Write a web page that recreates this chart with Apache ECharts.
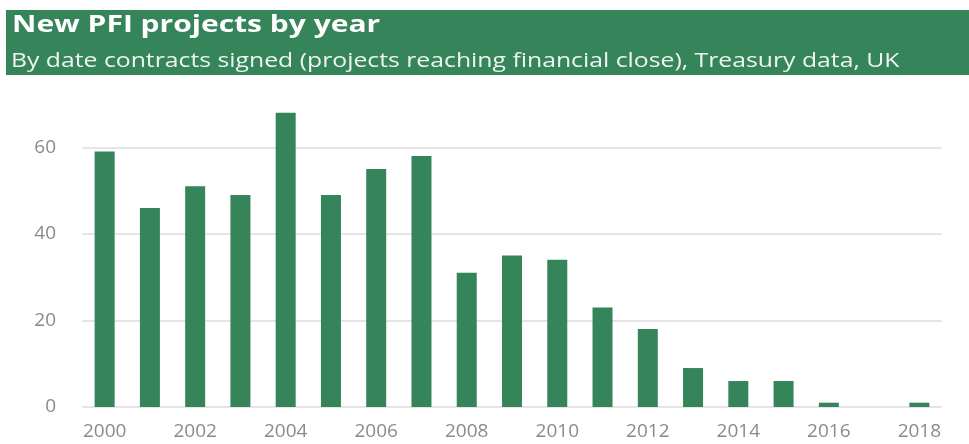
<!DOCTYPE html>
<html>
<head>
<meta charset="utf-8">
<script src="https://cdn.jsdelivr.net/npm/echarts@6/dist/echarts.min.js"></script>
<style>
  html, body { margin: 0; padding: 0; background: #fff; }
  #chart { width: 969px; height: 444px; }
</style>
</head>
<body>
<div id="chart"></div>
<script>
// New PFI projects reaching financial close, by year signed
const years = ['2000','2001','2002','2003','2004','2005','2006','2007','2008','2009',
               '2010','2011','2012','2013','2014','2015','2016','2017','2018'];
const projects = [59, 46, 51, 49, 68, 49, 55, 58, 31, 35, 34, 23, 18, 9, 6, 6, 1, 0, 1];
const yTicks = [0, 20, 40, 60];

const titleText = 'New PFI projects by year';
const subtitleText = 'By date contracts signed (projects reaching financial close), Treasury data, UK';

const green = '#35845a';
const chart = echarts.init(document.getElementById('chart'), null, { renderer: 'canvas' });

chart.setOption({
  backgroundColor: '#fff',
  animation: false,
  graphic: [
    {
      type: 'rect',
      shape: { x: 6, y: 10, width: 963, height: 65 },
      style: { fill: green },
      z: 0
    },
    {
      // header text is drawn slightly widened
      type: 'text',
      x: 12,
      y: 13,
      scaleX: 1.25,
      style: {
        text: titleText,
        fill: '#ffffff',
        font: 'bold 24px "Open Sans"',
        textVerticalAlign: 'top'
      },
      z: 1
    },
    {
      type: 'text',
      x: 11,
      y: 51,
      scaleX: 1.27,
      style: {
        text: subtitleText,
        fill: '#eef5f0',
        font: '19.5px "Open Sans"',
        textVerticalAlign: 'top'
      },
      z: 1
    }
  ],
  grid: { left: 82, right: 27, top: 104, bottom: 37, containLabel: false },
  xAxis: {
    type: 'category',
    data: years,
    axisLine: { show: false },
    axisTick: { show: false },
    axisLabel: {
      interval: 1,
      color: '#8a8a8a',
      fontFamily: 'Open Sans',
      fontSize: 19,
      margin: 15
    }
  },
  yAxis: {
    type: 'value',
    min: 0,
    max: 70,
    interval: 20,
    axisLine: { show: false },
    axisTick: { show: false },
    axisLabel: {
      showMaxLabel: false,
      color: '#8a8a8a',
      fontFamily: 'Open Sans',
      fontSize: 19,
      margin: 26,
      formatter: v => (yTicks.includes(v) ? String(v) : '')
    },
    splitLine: {
      showMaxLine: false,
      lineStyle: { color: '#dcdcdc', width: 1.5 }
    }
  },
  series: [{
    type: 'bar',
    data: projects,
    barWidth: 20,
    itemStyle: { color: green }
  }]
});
</script>
</body>
</html>
